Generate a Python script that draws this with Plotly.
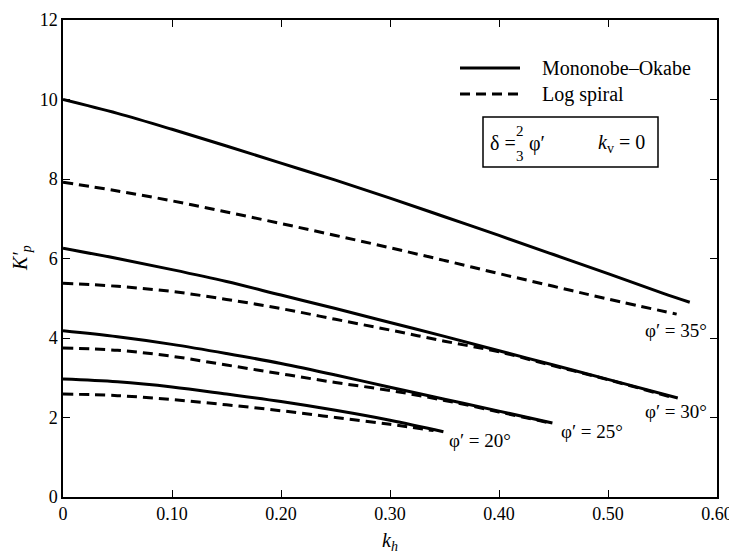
import plotly.graph_objects as go

# ---- data ----
x_mo35 = [0, 0.05, 0.10, 0.15, 0.20, 0.25, 0.30, 0.35, 0.40, 0.45, 0.50, 0.55, 0.575]
k_mo35 = [10.0, 9.65, 9.25, 8.83, 8.40, 7.97, 7.52, 7.05, 6.58, 6.10, 5.62, 5.13, 4.90]
x_ls35 = [0, 0.05, 0.10, 0.15, 0.20, 0.25, 0.30, 0.35, 0.40, 0.45, 0.50, 0.563]
k_ls35 = [7.92, 7.70, 7.45, 7.17, 6.88, 6.58, 6.27, 5.95, 5.62, 5.30, 4.98, 4.60]

x_mo30 = [0, 0.05, 0.10, 0.15, 0.20, 0.25, 0.30, 0.35, 0.40, 0.45, 0.50, 0.564]
k_mo30 = [6.26, 6.00, 5.72, 5.42, 5.08, 4.74, 4.39, 4.04, 3.68, 3.32, 2.96, 2.49]
x_ls30 = [0, 0.05, 0.10, 0.15, 0.20, 0.25, 0.30, 0.35, 0.40, 0.45, 0.50, 0.56]
k_ls30 = [5.38, 5.30, 5.17, 4.97, 4.74, 4.47, 4.20, 3.92, 3.65, 3.30, 2.95, 2.50]

x_mo25 = [0, 0.05, 0.10, 0.15, 0.20, 0.25, 0.30, 0.35, 0.40, 0.449]
k_mo25 = [4.18, 4.03, 3.84, 3.61, 3.36, 3.07, 2.76, 2.46, 2.16, 1.86]
x_ls25 = [0, 0.05, 0.10, 0.15, 0.20, 0.25, 0.30, 0.35, 0.40, 0.449]
k_ls25 = [3.75, 3.69, 3.54, 3.32, 3.10, 2.88, 2.68, 2.43, 2.14, 1.85]

x_mo20 = [0, 0.05, 0.10, 0.15, 0.20, 0.25, 0.30, 0.349]
k_mo20 = [2.97, 2.90, 2.77, 2.59, 2.40, 2.18, 1.93, 1.64]
x_ls20 = [0, 0.05, 0.10, 0.15, 0.20, 0.25, 0.30, 0.34]
k_ls20 = [2.59, 2.55, 2.45, 2.32, 2.17, 2.00, 1.83, 1.67]

curve_labels = ["φ′ = 35°", "φ′ = 30°", "φ′ = 25°", "φ′ = 20°"]
label_x = [0.5625, 0.5625, 0.485, 0.383]
label_y = [4.20, 2.14, 1.64, 1.43]

x_ticks = [0, 0.1, 0.2, 0.3, 0.4, 0.5, 0.6]
x_ticktext = ["0", "0.10", "0.20", "0.30", "0.40", "0.50", "0.60"]
y_ticks = [0, 2, 4, 6, 8, 10, 12]

FONT = "Liberation Serif, Times New Roman, serif"
SOLID = dict(color="black", width=3)
DASH = dict(color="black", width=3, dash="10px,6px")

fig = go.Figure()
for xs, ks in [(x_mo35, k_mo35), (x_mo30, k_mo30), (x_mo25, k_mo25), (x_mo20, k_mo20)]:
    fig.add_trace(go.Scatter(x=xs, y=ks, mode="lines", line=SOLID, line_shape="spline",
                             showlegend=False, hoverinfo="skip"))
for xs, ks in [(x_ls35, k_ls35), (x_ls30, k_ls30), (x_ls25, k_ls25), (x_ls20, k_ls20)]:
    fig.add_trace(go.Scatter(x=xs, y=ks, mode="lines", line=DASH, line_shape="spline",
                             showlegend=False, hoverinfo="skip"))

annotations = []
for t, lx, ly in zip(curve_labels, label_x, label_y):
    annotations.append(dict(x=lx, y=ly, xref="x", yref="y", text=t, showarrow=False,
                            font=dict(family=FONT, size=19, color="black")))

# plot area in page pixels: x 63..717, y 20..497 (page body adds an 8px offset)
def px_x(px):
    return (px - 63) / 654.0

def px_y(py):
    return (497 - py) / 477.0

shapes = [
    dict(type="line", xref="paper", yref="paper", x0=px_x(460), x1=px_x(520), y0=px_y(68), y1=px_y(68),
         line=dict(color="black", width=3)),
    dict(type="line", xref="paper", yref="paper", x0=px_x(460), x1=px_x(520), y0=px_y(94), y1=px_y(94),
         line=dict(color="black", width=3, dash="10px,6px")),
    dict(type="rect", xref="paper", yref="paper", x0=px_x(483), x1=px_x(658), y0=px_y(167), y1=px_y(117),
         line=dict(color="black", width=1.5)),
]
annotations += [
    dict(x=px_x(540), y=px_y(68), xref="paper", yref="paper", text="Mononobe–Okabe", showarrow=False,
         xanchor="left", yanchor="middle", font=dict(family=FONT, size=20, color="black")),
    dict(x=px_x(540), y=px_y(94), xref="paper", yref="paper", text="Log spiral", showarrow=False,
         xanchor="left", yanchor="middle", font=dict(family=FONT, size=20, color="black")),
    dict(x=px_x(488), y=px_y(143), xref="paper", yref="paper", text="δ =", showarrow=False,
         xanchor="left", yanchor="middle", font=dict(family=FONT, size=20, color="black")),
    dict(x=px_x(520), y=px_y(131), xref="paper", yref="paper", text="2", showarrow=False,
         xanchor="center", yanchor="middle", font=dict(family=FONT, size=15, color="black")),
    dict(x=px_x(520), y=px_y(156), xref="paper", yref="paper", text="3", showarrow=False,
         xanchor="center", yanchor="middle", font=dict(family=FONT, size=15, color="black")),
    dict(x=px_x(527), y=px_y(143), xref="paper", yref="paper", text="φ′", showarrow=False,
         xanchor="left", yanchor="middle", font=dict(family=FONT, size=20, color="black")),
    dict(x=px_x(596), y=px_y(143), xref="paper", yref="paper", text="<i>k</i><sub>v</sub> = 0",
         showarrow=False, xanchor="left", yanchor="middle",
         font=dict(family=FONT, size=20, color="black")),
    # axis titles
    dict(x=px_x(390), y=px_y(541), xref="paper", yref="paper", text="<i>k<sub>h</sub></i>",
         showarrow=False, xanchor="center", yanchor="middle",
         font=dict(family=FONT, size=20, color="black")),
    dict(x=px_x(21), y=px_y(258), xref="paper", yref="paper", text="<i>K′<sub>p</sub></i>",
         showarrow=False, xanchor="center", yanchor="middle", textangle=-90,
         font=dict(family=FONT, size=20, color="black")),
]

fig.update_layout(
    width=729, height=549,
    margin=dict(l=55, r=20, t=12, b=60, autoexpand=False),
    paper_bgcolor="white", plot_bgcolor="white",
    font=dict(family=FONT, size=18, color="black"),
    showlegend=False,
    shapes=shapes,
    annotations=annotations,
    xaxis=dict(range=[0, 0.6], tickvals=x_ticks, ticktext=x_ticktext, automargin=False,
               ticks="inside", ticklen=7, tickwidth=1.2, tickcolor="black",
               showline=True, linecolor="black", linewidth=1.5, mirror="ticks",
               showgrid=False, zeroline=False,
               tickfont=dict(family=FONT, size=18)),
    yaxis=dict(range=[0, 12], tickvals=y_ticks, automargin=False,
               ticks="inside", ticklen=7, tickwidth=1.2, tickcolor="black",
               showline=True, linecolor="black", linewidth=1.5, mirror="ticks",
               showgrid=False, zeroline=False,
               tickfont=dict(family=FONT, size=18)),
)

fig.write_html("out.html")
